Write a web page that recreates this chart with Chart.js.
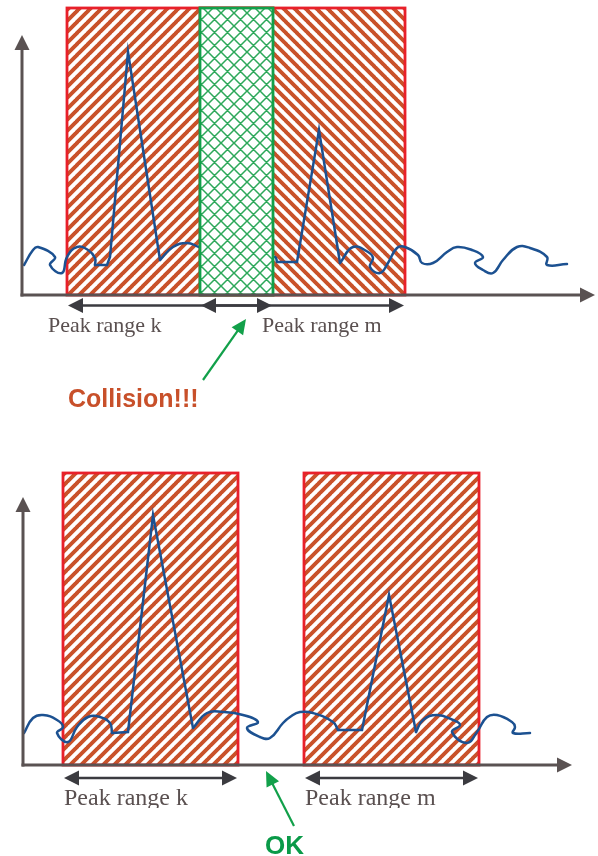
<!DOCTYPE html>
<html>
<head>
<meta charset="utf-8">
<script src="https://cdn.jsdelivr.net/npm/chart.js@4"></script>
<style>
  html, body { margin: 0; padding: 0; background: #ffffff; }
  canvas { display: block; }
</style>
</head>
<body>
<canvas id="topChart" width="598" height="428"></canvas>
<canvas id="bottomChart" width="598" height="428"></canvas>
<script>
// ---------- DATA (x: distance from the y axis, y: height above the x axis, arbitrary units) ----------
// Top panel: overlapping peak ranges -> collision
const topRangeK = [45, 251];
const topRangeM = [178, 383];
const topRangeHeight = 287;
const topAxisMax = [573, 260];          // x max, y max
const topNoiseA = [[2,30],[11,45],[16,48],[33,38],[28,30],[40,22],[45,38],[55,48],[66,45],[73,37],[73,30]];
const topPeakK  = [[73,30],[85,30],[88,38],[106,243],[138,35]];
const topNoiseB = [[138,35],[151,48],[165,52],[177,48],[200,40],[230,40],[253,38],[255,33]];
const topPeakM  = [[255,33],[275,33],[297,165],[318,32]];
const topNoiseC = [[318,32],[331,48],[346,43],[351,37],[348,28],[358,22],[366,32],[375,47],[383,48],[396,40],[400,32],[411,32],[425,43],[435,48],[450,45],[461,38],[453,32],[461,25],[471,22],[481,35],[495,48],[508,47],[525,38],[525,30],[545,31]];

// Bottom panel: separated peak ranges -> OK
const botRangeK = [40, 215];
const botRangeM = [281, 456];
const botRangeHeight = 292;
const botAxisMax = [549, 268];
const botNoiseA = [[1,32],[10,47],[20,50],[34,45],[40,38],[34,32],[45,23],[54,38],[65,48],[77,48],[87,42],[89,32]];
const botPeakK  = [[89,32],[105,33],[130,250],[170,37]];
const botNoiseB = [[170,37],[184,52],[200,53],[220,50],[235,43],[224,37],[237,28],[247,27],[260,42],[267,48],[277,53],[290,52],[310,43],[315,35]];
const botPeakM  = [[315,35],[339,35],[366,170],[393,33]];
const botNoiseC = [[393,33],[400,45],[414,50],[430,45],[437,40],[429,33],[444,22],[454,33],[464,48],[474,50],[489,43],[492,38],[490,32],[507,32]];

const labelK = 'Peak range k';
const labelM = 'Peak range m';
const topVerdict = 'Collision!!!';
const botVerdict = 'OK';

// ---------- STYLES ----------
const AXIS_COLOR = '#5a5252';
const ARROW_COLOR = '#3b3b40';
const TEXT_COLOR = '#5a5050';
const CURVE_COLOR = '#1c5191';
const RED_BORDER = '#e8202a';
const HATCH_COLOR = '#c9522a';
const GREEN = '#12a04a';

function stripePattern(ctx, dir) {
  const s = 11;
  const c = document.createElement('canvas');
  c.width = s; c.height = s;
  const g = c.getContext('2d');
  g.strokeStyle = HATCH_COLOR;
  g.lineWidth = 3.9;
  g.beginPath();
  for (const o of [-s, 0, s]) {
    if (dir === '\\') { g.moveTo(o - 1, -1); g.lineTo(o + s + 1, s + 1); }
    else { g.moveTo(o - 1, s + 1); g.lineTo(o + s + 1, -1); }
  }
  g.stroke();
  return ctx.createPattern(c, 'repeat');
}
function crossPattern(ctx) {
  const s = 13;
  const c = document.createElement('canvas');
  c.width = s; c.height = s;
  const g = c.getContext('2d');
  g.strokeStyle = 'rgba(22,158,72,0.9)';
  g.lineWidth = 1.5;
  g.beginPath();
  for (const o of [-s, 0, s]) {
    g.moveTo(o - 1, -1); g.lineTo(o + s + 1, s + 1);
    g.moveTo(o - 1, s + 1); g.lineTo(o + s + 1, -1);
  }
  g.stroke();
  return ctx.createPattern(c, 'repeat');
}

function arrowHead(ctx, tipX, tipY, angle, len, half, color) {
  ctx.save();
  ctx.translate(tipX, tipY);
  ctx.rotate(angle);
  ctx.fillStyle = color;
  ctx.beginPath();
  ctx.moveTo(0, 0);
  ctx.lineTo(-len, -half);
  ctx.lineTo(-len, half);
  ctx.closePath();
  ctx.fill();
  ctx.restore();
}
function line(ctx, x1, y1, x2, y2, color, w) {
  ctx.save();
  ctx.strokeStyle = color; ctx.lineWidth = w;
  ctx.beginPath(); ctx.moveTo(x1, y1); ctx.lineTo(x2, y2); ctx.stroke();
  ctx.restore();
}
function doubleArrow(ctx, x1, x2, y) {
  line(ctx, x1 + 10, y, x2 - 10, y, ARROW_COLOR, 2.4);
  arrowHead(ctx, x1, y, Math.PI, 15, 7.5, ARROW_COLOR);
  arrowHead(ctx, x2, y, 0, 15, 7.5, ARROW_COLOR);
}
function greenArrow(ctx, x1, y1, x2, y2) {
  const a = Math.atan2(y2 - y1, x2 - x1);
  line(ctx, x1, y1, x2 - Math.cos(a) * 10, y2 - Math.sin(a) * 10, GREEN, 2.2);
  arrowHead(ctx, x2, y2, a, 15, 7, GREEN);
}

function diagramPlugin(cfg) {
  return {
    id: 'diagram',
    beforeDatasetsDraw(chart) {
      const ctx = chart.ctx, xs = chart.scales.x, ys = chart.scales.y;
      const y0 = ys.getPixelForValue(0), yt = ys.getPixelForValue(cfg.rangeHeight);
      cfg.ranges.forEach((r, i) => {
        const xa = xs.getPixelForValue(r[0]), xb = xs.getPixelForValue(r[1]);
        ctx.save();
        ctx.fillStyle = '#ffffff';
        ctx.fillRect(xa, yt, xb - xa, y0 - yt);
        ctx.fillStyle = stripePattern(ctx, cfg.dirs[i]);
        ctx.fillRect(xa, yt, xb - xa, y0 - yt);
        ctx.strokeStyle = RED_BORDER; ctx.lineWidth = 2.8;
        ctx.strokeRect(xa, yt, xb - xa, y0 - yt);
        ctx.restore();
      });
    },
    afterDatasetsDraw(chart) {
      const ctx = chart.ctx, xs = chart.scales.x, ys = chart.scales.y;
      const y0 = ys.getPixelForValue(0), yt = ys.getPixelForValue(cfg.rangeHeight);
      // overlap region
      const [k, m] = cfg.ranges;
      if (m[0] < k[1]) {
        const xa = xs.getPixelForValue(m[0]), xb = xs.getPixelForValue(k[1]);
        ctx.save();
        ctx.fillStyle = '#ffffff';
        ctx.fillRect(xa, yt, xb - xa, y0 - yt);
        ctx.fillStyle = crossPattern(ctx);
        ctx.fillRect(xa, yt, xb - xa, y0 - yt);
        ctx.strokeStyle = GREEN; ctx.lineWidth = 2.8;
        ctx.strokeRect(xa, yt, xb - xa, y0 - yt);
        ctx.restore();
      }
      // axes
      const xl = xs.getPixelForValue(0), xr = xs.getPixelForValue(xs.max), ytop = ys.getPixelForValue(ys.max);
      line(ctx, xl, y0 + 1.5, xl, ytop + 12, AXIS_COLOR, 3);
      line(ctx, xl - 1.5, y0, xr - 12, y0, AXIS_COLOR, 3);
      arrowHead(ctx, xl, ytop, -Math.PI / 2, 15, 7.5, AXIS_COLOR);
      arrowHead(ctx, xr, y0, 0, 15, 7.5, AXIS_COLOR);
      // range arrows
      const ay = y0 + cfg.arrowGap;
      for (const r of cfg.ranges) {
        doubleArrow(ctx, xs.getPixelForValue(r[0]) + 1, xs.getPixelForValue(r[1]) - 1, ay);
      }
      // labels
      ctx.save();
      ctx.beginPath(); ctx.rect(0, 0, chart.width, cfg.labelClip); ctx.clip();
      ctx.fillStyle = TEXT_COLOR;
      ctx.font = cfg.labelFont;
      ctx.textBaseline = 'alphabetic';
      ctx.textAlign = 'left';
      ctx.fillText(labelK, cfg.labelX[0], cfg.labelBase);
      ctx.fillText(labelM, cfg.labelX[1], cfg.labelBase);
      ctx.restore();
      // verdict
      greenArrow(ctx, ...cfg.pointer);
      ctx.save();
      ctx.fillStyle = cfg.verdictColor;
      ctx.font = cfg.verdictFont;
      ctx.textAlign = 'left';
      ctx.textBaseline = 'alphabetic';
      ctx.fillText(cfg.verdict, cfg.verdictPos[0], cfg.verdictPos[1]);
      ctx.restore();
    }
  };
}

function toPts(a) { return a.map(p => ({ x: p[0], y: p[1] })); }
function seg(a, t) {
  return { data: toPts(a), tension: t, borderColor: CURVE_COLOR, borderWidth: 2.5, pointRadius: 0,
           fill: false, clip: false, borderCapStyle: 'round', borderJoinStyle: 'miter', cubicInterpolationMode: 'default' };
}

function makeChart(id, segs, axisMax, padding, cfg) {
  return new Chart(document.getElementById(id), {
    type: 'line',
    data: { datasets: segs },
    options: {
      responsive: false, animation: false, events: [],
      layout: { padding },
      scales: {
        x: { type: 'linear', min: 0, max: axisMax[0], display: false },
        y: { type: 'linear', min: 0, max: axisMax[1], display: false }
      },
      plugins: { legend: { display: false }, tooltip: { enabled: false } }
    },
    plugins: [diagramPlugin(cfg)]
  });
}

makeChart('topChart',
  [seg(topNoiseA, 0.45), seg(topPeakK, 0), seg(topNoiseB, 0.45), seg(topPeakM, 0), seg(topNoiseC, 0.45)],
  topAxisMax,
  { left: 22, right: 3, top: 35, bottom: 133 },
  { ranges: [topRangeK, topRangeM], dirs: ['/', '\\'], rangeHeight: topRangeHeight, arrowGap: 10.5,
    labelFont: '22px "Liberation Serif", "DejaVu Serif", serif', labelX: [48, 262], labelBase: 332, labelClip: 428,
    pointer: [203, 380, 246, 319], verdict: topVerdict, verdictColor: '#c8502a',
    verdictFont: 'bold 25px "Liberation Sans", Arial, sans-serif', verdictPos: [68, 407] });

makeChart('bottomChart',
  [seg(botNoiseA, 0.45), seg(botPeakK, 0), seg(botNoiseB, 0.45), seg(botPeakM, 0), seg(botNoiseC, 0.45)],
  botAxisMax,
  { left: 23, right: 26, top: 69, bottom: 91 },
  { ranges: [botRangeK, botRangeM], dirs: ['/', '/'], rangeHeight: botRangeHeight, arrowGap: 13,
    labelFont: '24px "Liberation Serif", "DejaVu Serif", serif', labelX: [64, 305], labelBase: 377, labelClip: 380,
    pointer: [294, 398, 266, 343], verdict: botVerdict, verdictColor: '#0a9a48',
    verdictFont: 'bold 26px "Liberation Sans", Arial, sans-serif', verdictPos: [265, 426] });
</script>
</body>
</html>
